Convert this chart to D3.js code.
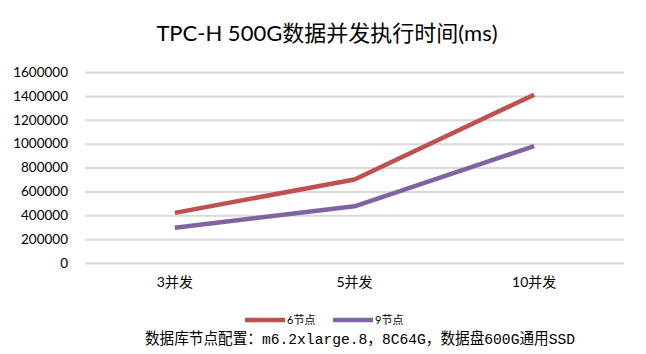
<!DOCTYPE html>
<html>
<head>
<meta charset="utf-8">
<script src="https://cdn.jsdelivr.net/npm/d3@7"></script>
<style>
html,body{margin:0;padding:0;background:#fff;}
svg{display:block;}
</style>
</head>
<body>
<svg id="chart" width="646" height="354"></svg>
<script>
const categories = ["3并发", "5并发", "10并发"];
const series6 = [420000, 700000, 1410000];
const series9 = [295000, 475000, 980000];
const seriesNames = ["6节点", "9节点"];
const yTicks = [0, 200000, 400000, 600000, 800000, 1000000, 1200000, 1400000, 1600000];
const titleText = "TPC-H 500G数据并发执行时间(ms)";
const noteText = "数据库节点配置：m6.2xlarge.8，8C64G，数据盘600G通用SSD";

(function () {
const colors = ["#c0504d", "#8064a2"];
const svg = d3.select("#chart");
const pLeft = 85, pRight = 624, pTop = 72, pBottom = 263;

const x = d3.scaleBand().domain(categories).range([pLeft, pRight]);
const y = d3.scaleLinear().domain([0, 1600000]).range([pBottom, pTop]);

const sans = "Lato, 'Noto Sans CJK SC', sans-serif";

svg.append("text").attr("x", 327).attr("y", 41).attr("text-anchor", "middle")
  .attr("font-family", sans).attr("font-size", 22).attr("font-weight", "normal").attr("fill", "#000")
  .text(titleText);

const yAxis = d3.axisLeft(y).tickValues(yTicks).tickSize(-(pRight - pLeft)).tickFormat(d3.format("d")).tickPadding(17);
const gy = svg.append("g").attr("transform", `translate(${pLeft},0)`).call(yAxis);
gy.select(".domain").remove();
gy.selectAll(".tick line").attr("stroke", "#d9d9d9").attr("stroke-width", 2);
gy.selectAll(".tick text").attr("font-family", sans).attr("font-size", 13.5).attr("fill", "#000");

const xAxis = d3.axisBottom(x).tickSize(0).tickPadding(14);
const gx = svg.append("g").attr("transform", `translate(0,${pBottom})`).call(xAxis);
gx.select(".domain").remove();
gx.selectAll(".tick text").attr("font-family", sans).attr("font-size", 14).attr("fill", "#000");

const line = d3.line().x((d, i) => x(categories[i]) + x.bandwidth() / 2).y(d => y(d));
[series6, series9].forEach((s, k) => {
  svg.append("path").datum(s).attr("d", line).attr("fill", "none")
    .attr("stroke", colors[k]).attr("stroke-width", 4.5).attr("stroke-linejoin", "round");
});

const legX = [245, 333];
seriesNames.forEach((n, k) => {
  svg.append("line").attr("x1", legX[k]).attr("x2", legX[k] + 40).attr("y1", 320).attr("y2", 320)
    .attr("stroke", colors[k]).attr("stroke-width", 4.5);
  svg.append("text").attr("x", legX[k] + 42).attr("y", 324).attr("font-family", sans)
    .attr("font-size", 11).attr("fill", "#000").text(n);
});

svg.append("text").attr("x", 145).attr("y", 344)
  .attr("font-family", "'Liberation Mono', 'Noto Sans CJK SC', monospace")
  .attr("font-size", 15.5).attr("fill", "#000")
  .attr("textLength", 430).attr("lengthAdjust", "spacingAndGlyphs")
  .text(noteText);
})();
</script>
</body>
</html>
